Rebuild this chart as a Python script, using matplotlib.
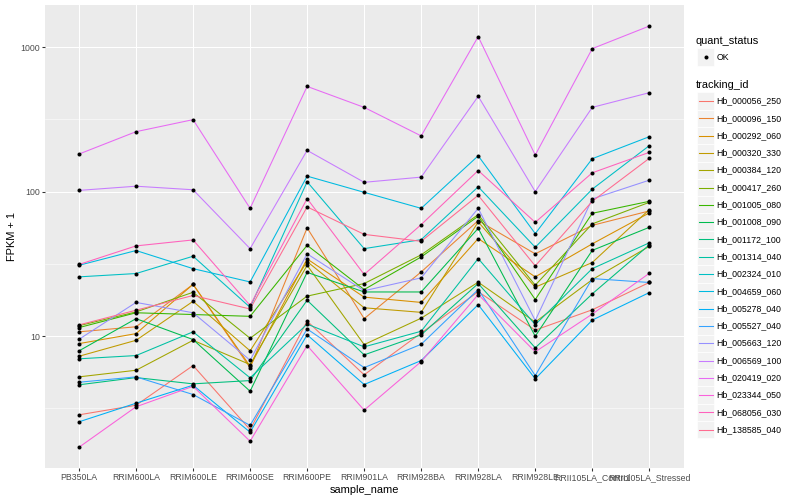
import numpy as np
import matplotlib
matplotlib.use("Agg")
import matplotlib.pyplot as plt
from matplotlib.patches import Rectangle
from matplotlib.lines import Line2D

# sample order on the x axis
samples = ["PB350LA", "RRIM600LA", "RRIM600LE", "RRIM600SE", "RRIM600PE", "RRIM901LA",
           "RRIM928BA", "RRIM928LA", "RRIM928LE", "RRII105LA_Control", "RRII105LA_Stressed"]

tracking_ids = ["Hb_000056_250", "Hb_000096_150", "Hb_000292_060", "Hb_000320_330",
                "Hb_000384_120", "Hb_000417_260", "Hb_001005_080", "Hb_001008_090",
                "Hb_001172_100", "Hb_001314_040", "Hb_002324_010", "Hb_004659_060",
                "Hb_005278_040", "Hb_005527_040", "Hb_005663_120", "Hb_006569_100",
                "Hb_020419_020", "Hb_023344_050", "Hb_068056_030", "Hb_138585_040"]

# FPKM + 1 per gene, one value per sample
hb_000056_250 = [2.85, 3.32, 6.25, 2.25, 12.7, 5.39, 10.5, 20.3, 11.0, 15.2, 23.5]
hb_000096_150 = [10.7, 11.6, 22.8, 6.03, 56.1, 13.2, 27.8, 63.0, 37.1, 58.4, 73.5]
hb_000292_060 = [8.87, 10.4, 22.8, 6.18, 34.2, 18.6, 17.1, 47.3, 25.7, 43.5, 71.2]
hb_000320_330 = [7.25, 9.35, 17.4, 7.90, 32.8, 15.7, 14.6, 61.7, 21.8, 32.3, 75.1]
hb_000384_120 = [5.22, 5.80, 9.35, 6.35, 30.9, 8.73, 13.3, 23.6, 12.5, 24.6, 41.8]
hb_000417_260 = [11.8, 14.7, 20.1, 9.66, 18.9, 23.1, 36.5, 69.3, 22.5, 59.8, 84.3]
hb_001005_080 = [11.45, 14.5, 14.1, 13.7, 42.5, 21.0, 35.3, 67.5, 17.9, 70.8, 85.7]
hb_001008_090 = [7.90, 13.2, 9.46, 4.15, 27.6, 20.2, 20.2, 55.7, 9.97, 39.2, 56.6]
hb_001172_100 = [4.60, 5.16, 4.67, 4.92, 17.7, 7.41, 10.2, 23.1, 8.29, 19.6, 42.8]
hb_001314_040 = [6.96, 7.33, 10.7, 5.14, 12.1, 8.42, 10.8, 34.4, 12.0, 29.3, 44.2]
hb_002324_010 = [25.7, 27.1, 35.7, 15.8, 117, 40.3, 46.5, 108, 41.2, 104, 208]
hb_004659_060 = [30.9, 39.1, 29.3, 23.7, 128, 98.9, 76.6, 177, 51.2, 169, 240]
hb_005278_040 = [2.55, 3.43, 4.57, 2.16, 10.2, 4.62, 6.77, 16.5, 5.06, 12.9, 20.0]
hb_005527_040 = [4.79, 5.22, 3.94, 2.41, 11.2, 6.05, 8.77, 21.0, 5.33, 25.0, 23.5]
hb_005663_120 = [9.50, 17.1, 14.5, 6.80, 37.1, 20.6, 25.3, 76.6, 12.8, 89.0, 120]
hb_006569_100 = [102, 109, 103, 40.3, 193, 116, 126, 457, 100, 383, 484]
hb_020419_020 = [182, 260, 315, 76.6, 535, 383, 243, 1183, 179, 977, 1400]
hb_023344_050 = [1.70, 3.24, 4.49, 1.87, 8.60, 3.07, 6.66, 19.4, 7.78, 14.2, 27.2]
hb_068056_030 = [31.3, 42.1, 46.3, 16.3, 89.5, 26.7, 59.1, 140, 61.3, 135, 187]
hb_138585_040 = [11.95, 15.1, 19.1, 15.4, 78.4, 50.6, 45.3, 94.3, 30.6, 85.7, 170]

series = [hb_000056_250, hb_000096_150, hb_000292_060, hb_000320_330, hb_000384_120,
          hb_000417_260, hb_001005_080, hb_001008_090, hb_001172_100, hb_001314_040,
          hb_002324_010, hb_004659_060, hb_005278_040, hb_005527_040, hb_005663_120,
          hb_006569_100, hb_020419_020, hb_023344_050, hb_068056_030, hb_138585_040]

# ggplot2 hue palette, 20 levels
colors = ["#F8766D", "#EA8331", "#D89000", "#C09B00", "#A3A500", "#7CAE00", "#39B600",
          "#00BB4E", "#00BF7D", "#00C1A3", "#00BFC4", "#00BAE0", "#00B0F6", "#35A2FF",
          "#9590FF", "#C77CFF", "#E76BF3", "#FA62DB", "#FF62BC", "#FF6C91"]

plt.rcParams['font.family'] = ['Liberation Sans', 'DejaVu Sans']

W, H = 800, 500
fig = plt.figure(figsize=(8, 5), dpi=100)


def fx(x):
    return x / W


def fy(y):
    return 1 - y / H


px = 0.72  # one pixel in points at 100 dpi

ax = fig.add_axes([fx(44.8), fy(468.3), fx(683.5) - fx(44.8), fy(5) - fy(468.3)])
ax.set_facecolor("#EBEBEB")
for s in ax.spines.values():
    s.set_visible(False)

x = np.arange(len(samples))
for vals, col in zip(series, colors):
    ax.plot(x, vals, color=col, lw=1.07 * px, zorder=3, solid_capstyle="butt")
for vals in series:
    ax.plot(x, vals, ls="none", marker="o", ms=2.9, color="black", zorder=4,
            markeredgewidth=0)

ax.set_yscale("log")
allv = np.log10(np.concatenate([np.array(v, dtype=float) for v in series]))
lo, hi = allv.min(), allv.max()
pad = (hi - lo) * 0.05
ax.set_ylim(10 ** (lo - pad), 10 ** (hi + pad))
ax.set_xlim(-0.6, len(samples) - 0.4)

ax.set_yticks([10, 100, 1000])
ax.set_yticklabels(["10", "100", "1000"])
ax.set_yticks([10 ** 0.5, 10 ** 1.5, 10 ** 2.5], minor=True)
ax.yaxis.set_minor_formatter(matplotlib.ticker.NullFormatter())
ax.set_xticks(x)
ax.set_xticklabels(samples)

ax.tick_params(axis="both", which="major", length=2.75 * px, width=1.07 * px,
               color="#333333", labelcolor="#4D4D4D", labelsize=8.8 * px, pad=2.2 * px)
ax.tick_params(axis="y", which="minor", length=0)
ax.grid(True, which="major", color="white", lw=1.07 * px, zorder=0)
ax.grid(True, which="minor", axis="y", color="white", lw=0.53 * px, zorder=0)
ax.set_axisbelow(True)

ax.set_xlabel("sample_name", fontsize=11 * px, labelpad=2.75 * px)
ax.set_ylabel("FPKM + 1", fontsize=11 * px, labelpad=2.75 * px)

# legends drawn by hand to match the ggplot layout
fig.text(fx(696), fy(40.5), "quant_status", fontsize=11 * px, va="center", ha="left")
key_w, key_h = 17.3, 17.3
kx = 697
fig.add_artist(Rectangle((fx(kx), fy(48.5 + key_h)), key_w / W, key_h / H,
                         transform=fig.transFigure, facecolor="#F2F2F2",
                         edgecolor="white", lw=0.5))
fig.add_artist(Line2D([fx(kx + key_w / 2)], [fy(57)], transform=fig.transFigure,
                      marker="o", ms=2.9, color="black", markeredgewidth=0))
fig.text(fx(716.7), fy(57), "OK", fontsize=8.8 * px, va="center", ha="left")

fig.text(fx(696), fy(85), "tracking_id", fontsize=11 * px, va="center", ha="left")
for i, (tid, col) in enumerate(zip(tracking_ids, colors)):
    cy = 101 + i * key_h
    fig.add_artist(Rectangle((fx(kx), fy(cy + key_h / 2)), key_w / W, key_h / H,
                             transform=fig.transFigure, facecolor="#F2F2F2",
                             edgecolor="white", lw=0.5))
    fig.add_artist(Line2D([fx(kx + 1.7), fx(kx + key_w - 1.7)], [fy(cy), fy(cy)],
                          transform=fig.transFigure, color=col, lw=1.07 * px))
    fig.text(fx(716.7), fy(cy), tid, fontsize=8.8 * px, va="center", ha="left")

fig.savefig("out.png", dpi=100, facecolor="white")
